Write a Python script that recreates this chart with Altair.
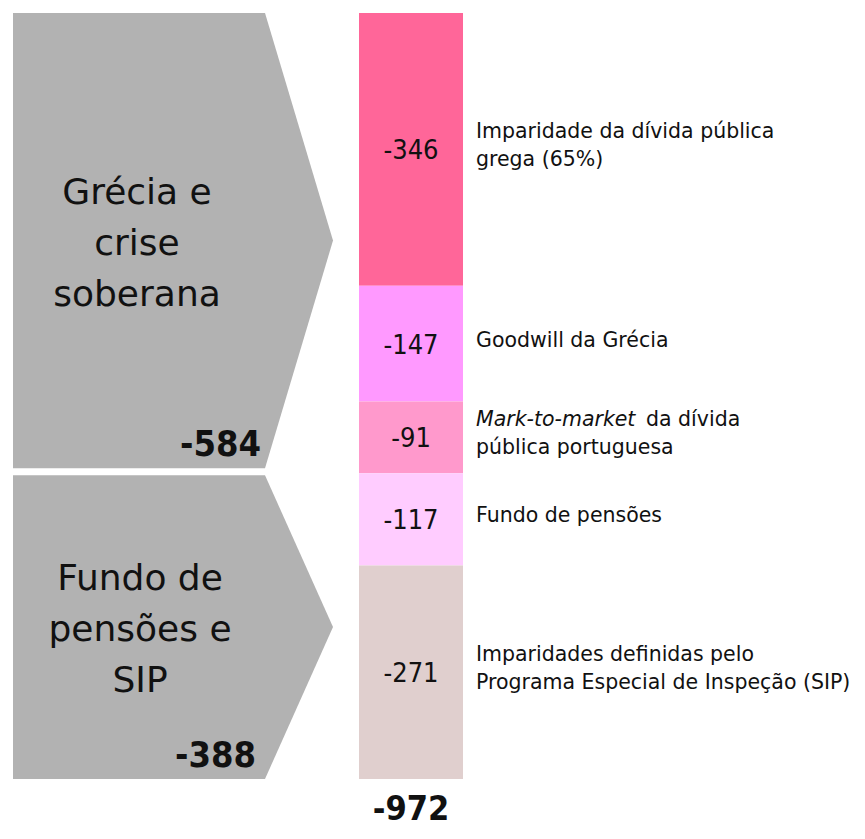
import altair as alt
import pandas as pd

# ---------------- data ----------------
items = [
    "Imparidade da dívida pública grega (65%)",
    "Goodwill da Grécia",
    "Mark-to-market da dívida pública portuguesa",
    "Fundo de pensões",
    "Imparidades definidas pelo Programa Especial de Inspeção (SIP)",
]
values = [-346, -147, -91, -117, -271]
colors = ["#FF6699", "#FF99FF", "#FF99CC", "#FFCCFF", "#E0CFCE"]
label_lines = [
    ["Imparidade da dívida pública", "grega (65%)"],
    ["Goodwill da Grécia"],
    ["Mark-to-market da dívida", "pública portuguesa"],
    ["Fundo de pensões"],
    ["Imparidades definidas pelo", "Programa Especial de Inspeção (SIP)"],
]
italic_part = ["", "", "Mark-to-market", "", ""]

groups = ["Grécia e crise soberana", "Fundo de pensões e SIP"]
group_lines = [["Grécia e", "crise", "soberana"], ["Fundo de", "pensões e", "SIP"]]
group_size = [3, 2]
group_totals = [-584, -388]
total = -972

# ---------------- layout ----------------
FONT = "DejaVu Sans"
FONT_C = "DejaVu Sans Condensed"
W, H = 844, 818           # plot area (page x 13..857, y 13..831)
BAR_PX = 766              # pixel height of the full stacked bar
tot_abs = -sum(values)
k = tot_abs / BAR_PX      # value units per pixel
ymax = H * k

xs = alt.Scale(domain=[0, W], nice=False, zero=False)
ys = alt.Scale(domain=[0, ymax], nice=False, zero=False, reverse=True)

# stacked bar table
rows, acc = [], 0
for it, v, c in zip(items, values, colors):
    rows.append(dict(item=it, start=acc, end=acc - v, mid=acc - v / 2, label=str(v)))
    acc -= v
bar_df = pd.DataFrame(rows)

bars = alt.Chart(bar_df).mark_rect().encode(
    x=alt.value(346), x2=alt.value(450),
    y=alt.Y("start:Q", scale=ys, axis=None), y2="end:Q",
    color=alt.Color("item:N", scale=alt.Scale(domain=items, range=colors), legend=None),
)
bar_text = alt.Chart(bar_df).mark_text(
    font=FONT_C, fontSize=27, baseline="middle", align="center", color="#111", dy=2
).encode(x=alt.value(398), y=alt.Y("mid:Q", scale=ys, axis=None), text="label:N")

# right-hand labels, one row per line
lab_rows = []
LH = 28
FS = 20.5
for (it, lines, ital, r) in zip(items, label_lines, italic_part, rows):
    n = len(lines)
    for i, ln in enumerate(lines):
        yv = r["mid"] + ((i - (n - 1) / 2) * LH - 3) * k
        if ital and ln.startswith(ital):
            lab_rows.append(dict(t=ital, y=yv, lx=463, style="italic"))
            lab_rows.append(dict(t=ln[len(ital):].strip(), y=yv, lx=463 + 170, style="normal"))
        else:
            lab_rows.append(dict(t=ln, y=yv, lx=463, style="normal"))
lab_df = pd.DataFrame(lab_rows)

lab_norm = alt.Chart(lab_df[lab_df["style"] == "normal"]).mark_text(
    font=FONT, fontSize=FS, baseline="middle", align="left", color="#111"
).encode(x=alt.X("lx:Q", scale=xs, axis=None), y=alt.Y("y:Q", scale=ys, axis=None), text="t:N")
lab_ital = alt.Chart(lab_df[lab_df["style"] == "italic"]).mark_text(
    font=FONT, fontSize=FS, fontStyle="italic", baseline="middle", align="left", color="#111"
).encode(x=alt.X("lx:Q", scale=xs, axis=None), y=alt.Y("y:Q", scale=ys, axis=None), text="t:N")

# group arrows (pentagons)
arrow_rows, grp_rows = [], []
pos = 0
for gi, (g, gl, gs, gt) in enumerate(zip(groups, group_lines, group_size, group_totals)):
    top = -sum(values[:pos])
    bot = top - sum(values[pos:pos + gs])
    top_d = top + (2 * k if gi > 0 else 0)
    bot_d = bot - (5 * k if gi < len(groups) - 1 else 0)
    mid = (top_d + bot_d) / 2
    for yv, xr in [(top_d, 252), (mid, 320), (bot_d, 252)]:
        arrow_rows.append(dict(group=g, y=yv, xr=xr, xl=0))
    grp_rows.append(dict(group=g, lines=gl, mid=mid + 3 * k, bot=bot_d,
                         tot=str(gt), tx=248 - 5 * gi, gx=124 + 3 * gi))
    pos += gs
arrow_df = pd.DataFrame(arrow_rows)
grp_df = pd.DataFrame(grp_rows)

GLH = 51
arrows = alt.Chart(arrow_df).mark_area(orient="horizontal", color="#B2B2B2", opacity=1).encode(
    y=alt.Y("y:Q", scale=ys, axis=None),
    x=alt.X("xr:Q", scale=xs, axis=None), x2="xl:Q",
    detail="group:N",
)
grp_text = alt.Chart(grp_df).mark_text(
    font=FONT, fontSize=36, lineHeight=GLH, baseline="middle", align="center",
    color="#111", dy=-GLH
).encode(x=alt.X("gx:Q", scale=xs, axis=None), y=alt.Y("mid:Q", scale=ys, axis=None), text="lines")
grp_tot = alt.Chart(grp_df).mark_text(
    font=FONT_C, fontSize=36, fontWeight="bold", baseline="alphabetic", align="right",
    color="#111", dy=-12
).encode(x=alt.X("tx:Q", scale=xs, axis=None), y=alt.Y("bot:Q", scale=ys, axis=None), text="tot:N")

tot_df = pd.DataFrame([dict(t=str(total), y=807 * k)])
tot_text = alt.Chart(tot_df).mark_text(
    font=FONT_C, fontSize=34, fontWeight="bold", baseline="alphabetic", align="center", color="#111"
).encode(x=alt.value(398), y=alt.Y("y:Q", scale=ys, axis=None), text="t:N")

chart = alt.layer(
    arrows, bars, bar_text, lab_norm, lab_ital, grp_text, grp_tot, tot_text
).properties(
    width=W, height=H,
    padding={"left": 5, "top": 5, "right": 0, "bottom": 0},
    autosize=alt.AutoSizeParams(type="none"),
    background="white",
).configure_view(stroke=None)

chart.save("out.html", embed_options={"renderer": "svg", "actions": False})
